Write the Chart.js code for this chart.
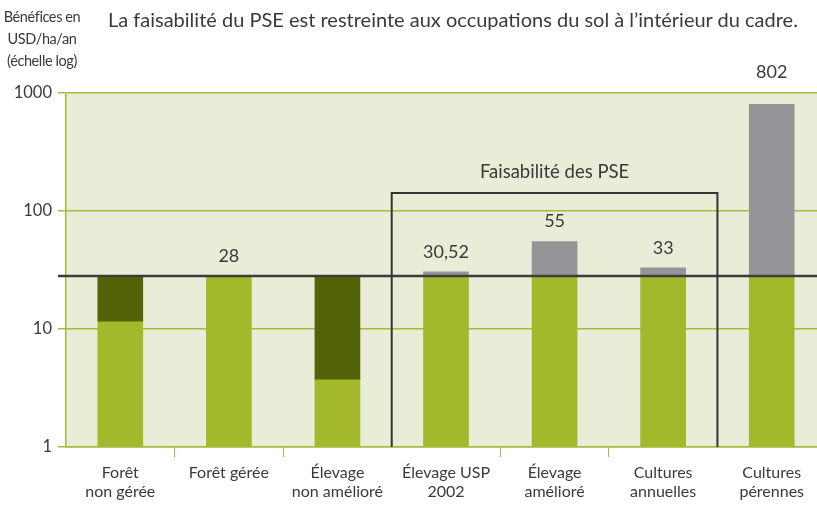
<!DOCTYPE html>
<html lang="fr">
<head>
<meta charset="utf-8">
<script src="https://cdn.jsdelivr.net/npm/chart.js@4/dist/chart.umd.min.js"></script>
<style>
  html, body { margin: 0; padding: 0; background: #fff; overflow: hidden; }
  body { width: 817px; height: 506px; position: relative; font-family: Lato, sans-serif; color: #3a3a3a; }
  #wrap { position: absolute; left: 0; top: 0; width: 826px; height: 506px; }
  #title { position: absolute; left: 108px; top: 7px; font-size: 20px; white-space: nowrap; }
  #yTitle { position: absolute; left: 0; top: 6px; width: 84px; text-align: center; font-size: 14.5px; line-height: 22px; letter-spacing: -0.4px; }
</style>
</head>
<body>
<div id="wrap"><canvas id="chart" width="826" height="506"></canvas></div>
<div id="title">La faisabilité du PSE est restreinte aux occupations du sol à l’intérieur du cadre.</div>
<div id="yTitle">Bénéfices en<br>USD/ha/an<br>(échelle log)</div>
<script>
  // ---- DATA ----
  const categories = [
    ['Forêt', 'non gérée'], 'Forêt gérée', ['Élevage', 'non amélioré'],
    ['Élevage USP', '2002'], ['Élevage', 'amélioré'], ['Cultures', 'annuelles'], ['Cultures', 'pérennes']
  ];
  const lightTop = [11.5, 28, 3.7, 28, 28, 28, 28];        // top of light green part
  const darkTop = [28, null, 28, null, null, null, null];    // top of dark green part
  const grayTop = [null, null, null, 30.52, 55, 33, 802];    // top of grey part
  const valueLabels = ['', '28', '', '30,52', '55', '33', '802'];
  const threshold = 28;
  const yTicks = [1, 10, 100, 1000];
  const boxFirst = 3, boxLast = 5;   // categories inside "Faisabilité des PSE"
  const boxTop = 142;

  const C = {
    light: '#a3b92b', dark: '#526206', gray: '#949598',
    bg: '#e9ecd7', grid: '#a6ba3e', text: '#3a3a3a', line: '#3c3c3c'
  };
  const FONT = 'Lato, sans-serif';

  // ---- PLUGINS ----
  const bgPlugin = {
    id: 'bg',
    beforeDraw(chart) {
      const { ctx, chartArea: a } = chart;
      ctx.save();
      ctx.fillStyle = C.bg;
      ctx.fillRect(a.left, a.top, a.right - a.left, a.bottom - a.top);
      ctx.restore();
    }
  };

  const overlayPlugin = {
    id: 'overlay',
    afterDatasetsDraw(chart) {
      const { ctx, chartArea: a, scales: { x, y } } = chart;
      ctx.save();
      // threshold line
      const ty = Math.round(y.getPixelForValue(threshold));
      ctx.strokeStyle = C.line;
      ctx.lineWidth = 2.5;
      ctx.beginPath();
      ctx.moveTo(a.left - 8, ty);
      ctx.lineTo(a.right, ty);
      ctx.stroke();

      // feasibility box
      const half = (x.getPixelForValue(1) - x.getPixelForValue(0)) / 2;
      const bx1 = x.getPixelForValue(boxFirst) - half;
      const bx2 = x.getPixelForValue(boxLast) + half;
      const by = y.getPixelForValue(boxTop);
      ctx.lineWidth = 2;
      ctx.strokeStyle = '#333';
      ctx.beginPath();
      ctx.moveTo(bx1, a.bottom);
      ctx.lineTo(bx1, by);
      ctx.lineTo(bx2, by);
      ctx.lineTo(bx2, a.bottom);
      ctx.stroke();
      ctx.fillStyle = C.text;
      ctx.font = '18.5px ' + FONT;
      ctx.textAlign = 'center';
      ctx.textBaseline = 'middle';
      ctx.fillText('Faisabilité des PSE', (bx1 + bx2) / 2, by - 21);

      // value labels
      ctx.font = '18px ' + FONT;
      ctx.textBaseline = 'bottom';
      valueLabels.forEach((t, i) => {
        if (!t) return;
        const top = Math.max(lightTop[i], darkTop[i] || 0, grayTop[i] || 0);
        let py = y.getPixelForValue(top) - 11;
        if (py < a.top + 20) py = a.top - 12;
        ctx.fillText(t, x.getPixelForValue(i), py);
      });
      ctx.restore();
    }
  };

  // ---- CHART ----
  const ctx = document.getElementById('chart').getContext('2d');
  new Chart(ctx, {
    type: 'bar',
    data: {
      labels: categories,
      datasets: [
        { data: lightTop.map(v => [1, v]), backgroundColor: C.light },
        { data: darkTop.map((v, i) => v ? [lightTop[i], v] : null), backgroundColor: C.dark },
        { data: grayTop.map(v => v ? [threshold, v] : null), backgroundColor: C.gray }
      ]
    },
    options: {
      responsive: false,
      animation: false,
      layout: { padding: { top: 93, left: 0, right: 0, bottom: 0 } },
      datasets: { bar: { barThickness: 45, borderWidth: 0 } },
      plugins: { legend: { display: false }, tooltip: { enabled: false } },
      scales: {
        x: {
          stacked: true,
          afterFit: s => { s.height = 59; },
          grid: {
            drawOnChartArea: false, offset: true, tickLength: 10,
            color: c => (c.index === 0 || c.index === boxFirst || c.index === boxLast + 1 || c.index >= categories.length) ? 'rgba(0,0,0,0)' : C.grid
          },
          border: { color: C.grid, width: 1.5 },
          ticks: { color: C.text, font: { family: 'Lato', size: 16 }, padding: 6, maxRotation: 0, autoSkip: false }
        },
        y: {
          type: 'logarithmic',
          min: 1, max: 1000,
          afterFit: s => { s.width = 66; },
          afterBuildTicks: s => { s.ticks = yTicks.map(v => ({ value: v })); },
          grid: { color: C.grid, lineWidth: 1.5, tickLength: 8 },
          border: { color: C.grid, width: 1.5 },
          ticks: { color: C.text, font: { family: 'Lato', size: 16.5 }, padding: 6, callback: v => String(v) }
        }
      }
    },
    plugins: [bgPlugin, overlayPlugin]
  });
</script>
</body>
</html>
